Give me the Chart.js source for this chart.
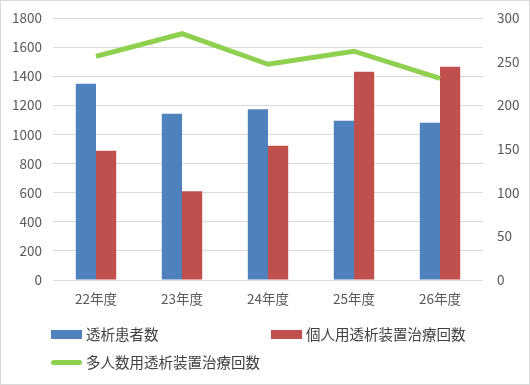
<!DOCTYPE html>
<html>
<head>
<meta charset="utf-8">
<script src="https://cdn.jsdelivr.net/npm/chart.js@4"></script>
<style>
  body { margin: 0; background: #fff; }
  #wrap { position: relative; width: 530px; height: 385px; box-sizing: border-box; border: 1px solid #d9d9d9; }
  #c { position: absolute; left: -1px; top: -1px; }
  .lg { position: absolute; font: 14.5px "Noto Sans CJK JP", sans-serif; color: #404040; white-space: nowrap; }
  .lg i { position: absolute; left: 0; display: block; width: 31px; }
  .lg span { position: absolute; left: 35px; top: -10px; line-height: 20px; }
</style>
</head>
<body>
<div id="wrap">
  <canvas id="c" width="530" height="385"></canvas>
  <div id="legend"></div>
</div>
<script>
var categories = ['22年度', '23年度', '24年度', '25年度', '26年度'];
var patients = [1348, 1143, 1173, 1094, 1081];
var personal = [888, 609, 923, 1431, 1465];
var multi = [256, 282, 247, 262, 231];

var blue = '#4f81bd', red = '#c0504d', green = '#8fd14f';
var tickColor = '#595959';
var tickFont = { family: '"Noto Sans CJK JP", sans-serif', size: 13.5, lineHeight: 1 };
var plain = function(v) { return String(v); };

var ctx = document.getElementById('c');
var chart = new Chart(ctx, {
  type: 'bar',
  data: {
    labels: categories,
    datasets: [
      { type: 'line', label: '多人数用透析装置治療回数', data: multi, yAxisID: 'y1',
        borderColor: green, backgroundColor: green, borderWidth: 5, pointRadius: 0,
        tension: 0, order: 0 },
      { label: '透析患者数', data: patients, yAxisID: 'y', backgroundColor: blue, order: 1 },
      { label: '個人用透析装置治療回数', data: personal, yAxisID: 'y', backgroundColor: red, order: 1 }
    ]
  },
  options: {
    responsive: false,
    animation: false,
    categoryPercentage: 0.47,
    barPercentage: 1,
    layout: { autoPadding: false, padding: { top: 18, left: 0, right: 0, bottom: 0 } },
    plugins: { legend: { display: false }, tooltip: { enabled: false } },
    scales: {
      x: {
        grid: { display: false, drawTicks: false },
        border: { display: false },
        ticks: { color: tickColor, font: tickFont, padding: 12 },
        afterFit: function(s) { s.height = 105; }
      },
      y: {
        position: 'left', min: 0, max: 1800,
        ticks: { stepSize: 200, color: tickColor, font: tickFont, padding: 11, callback: plain },
        grid: { color: '#d9d9d9', drawTicks: false },
        border: { display: false },
        afterFit: function(s) { s.width = 53; s.paddingTop = 0; }
      },
      y1: {
        position: 'right', min: 0, max: 300,
        ticks: { stepSize: 50, color: tickColor, font: tickFont, padding: 14, callback: plain },
        grid: { display: false, drawTicks: false },
        border: { display: false },
        afterFit: function(s) { s.width = 47; s.paddingTop = 0; }
      }
    }
  }
});

// legend laid out like the original (two rows)
var legendPos = [
  { ds: 1, x: 51, y: 334, kind: 'box' },
  { ds: 2, x: 271, y: 334, kind: 'box' },
  { ds: 0, x: 51, y: 362, kind: 'line' }
];
var lg = document.getElementById('legend');
legendPos.forEach(function(p) {
  var d = chart.data.datasets[p.ds];
  var el = document.createElement('div');
  el.className = 'lg';
  el.style.left = (p.x - 1) + 'px';
  el.style.top = (p.y - 1) + 'px';
  var mark = document.createElement('i');
  if (p.kind === 'box') {
    mark.style.height = '9px'; mark.style.top = '-4px'; mark.style.background = d.backgroundColor;
  } else {
    mark.style.height = '5px'; mark.style.top = '-2px'; mark.style.background = d.borderColor;
    mark.style.borderRadius = '3px';
  }
  var t = document.createElement('span');
  t.textContent = d.label;
  el.appendChild(mark); el.appendChild(t);
  lg.appendChild(el);
});
</script>
</body>
</html>
